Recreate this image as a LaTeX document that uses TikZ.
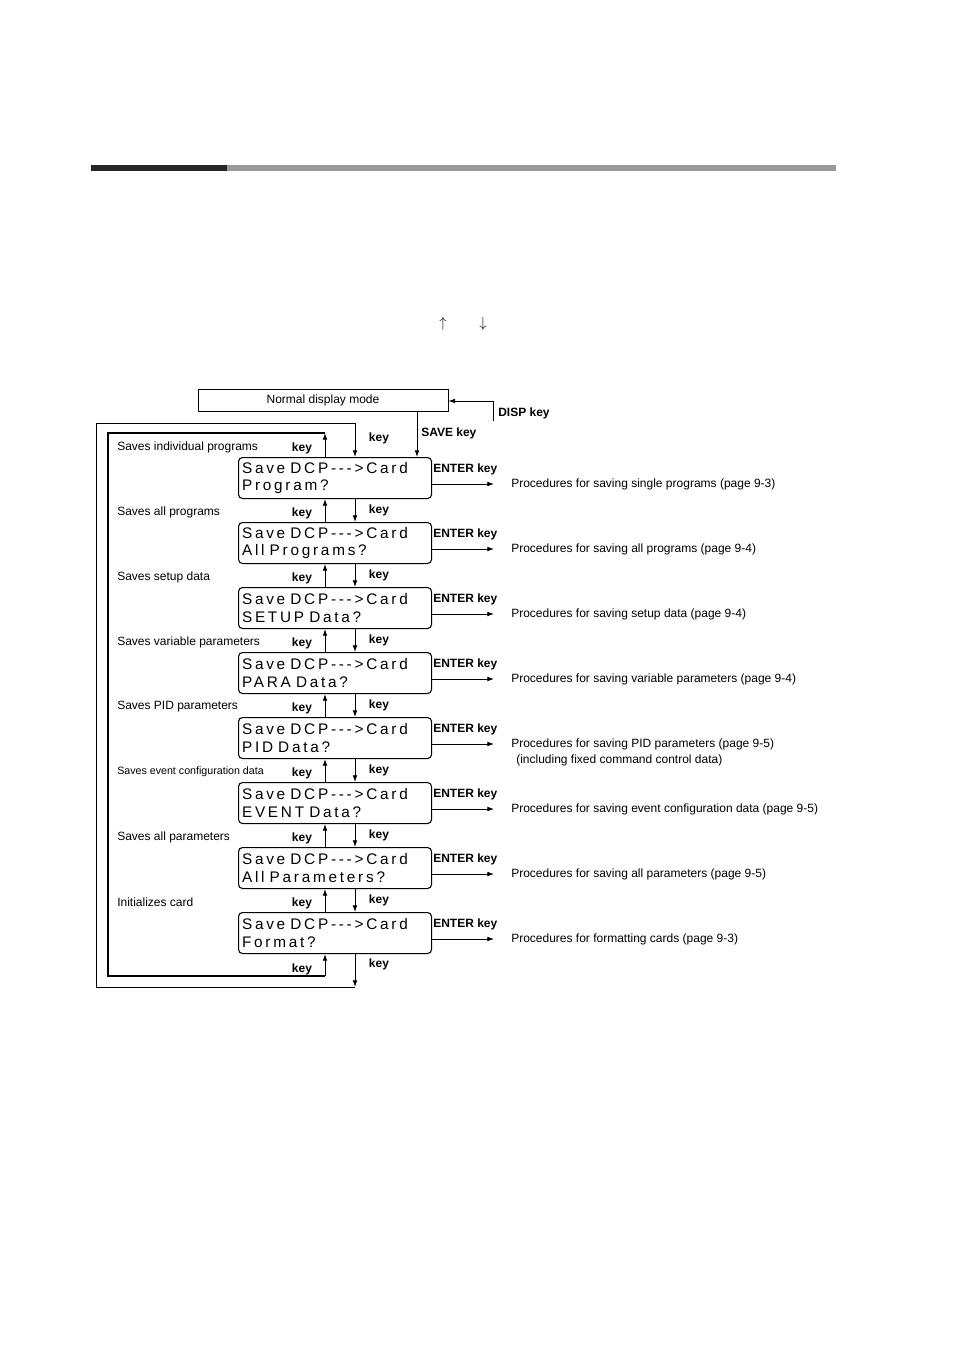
\documentclass[tikz,border=0pt]{standalone}
\usepackage{fontspec}
\setmainfont{Liberation Sans}
\newfontfamily\lcdfont[LetterSpace=18]{Liberation Sans}
\usetikzlibrary{arrows.meta}
\begin{document}
\begin{tikzpicture}[x=0.75pt,y=-0.75pt,
  lbl/.style={anchor=west,font=\fontsize{9}{10}\selectfont,inner sep=0},
  kb/.style={font=\bfseries\fontsize{9}{10}\selectfont,inner sep=0},
  lcd/.style={draw,rounded corners=3pt,line width=0.8pt,minimum width=193*0.75pt,minimum height=41*0.75pt,align=left,text width=186*0.75pt,inner sep=2pt,font=\lcdfont\fontsize{11.5}{13}\selectfont},
  ar/.style={-{Latex[length=5pt,width=3.5pt]},line width=0.6pt}]
\useasboundingbox (0,0) rectangle (954,1351);
\fill[black!85] (91,165) rectangle (227,171);
\fill[black!40] (227,165) rectangle (836,171);
\node[font=\fontsize{11}{12}\selectfont] (up) at (443,324) {$\uparrow$};
\node[font=\fontsize{11}{12}\selectfont] (dn) at (483,324) {$\downarrow$};
\node[draw,line width=0.6pt,minimum width=250*0.75pt,minimum height=22*0.75pt,font=\fontsize{9}{10}\selectfont,inner sep=0] (nd) at (323,400) {Normal display mode};
\coordinate (dk) at (493,421);
\draw[ar] (dk) -- (493,401) -- (nd.east |- 0,401);
\node[kb,anchor=west] (dispk) at (498,413) {DISP key};
\foreach \i/\t/\l/\p in {
 0/Program?/Saves individual programs/Procedures for saving single programs (page 9-3),
 1/All Programs?/Saves all programs/Procedures for saving all programs (page 9-4),
 2/SETUP Data?/Saves setup data/Procedures for saving setup data (page 9-4),
 3/PARA Data?/Saves variable parameters/Procedures for saving variable parameters (page 9-4),
 4/PID Data?/Saves PID parameters/Procedures for saving PID parameters (page 9-5),
 5/EVENT Data?/{\fontsize{8}{9}\selectfont Saves event configuration data}/Procedures for saving event configuration data (page 9-5),
 6/All Parameters?/Saves all parameters/Procedures for saving all parameters (page 9-5),
 7/Format?/Initializes card/Procedures for formatting cards (page 9-3)}{
  \pgfmathsetmacro\yt{457+65*\i}
  \node[lcd,anchor=north west] (b\i) at (238,\yt) {Save DCP--->Card\\\t};
  \node[lbl] (l\i) at (117,\yt-10) {\l};
  \node[kb,anchor=west] (e\i) at (433,\yt+12) {ENTER key};
  \node[lbl] (p\i) at (511,\yt+27) {\p};
  \draw[ar] (b\i.east |- 0,\yt+27) -- (494,\yt+27);
}
\node[lbl] (p4b) at (516,760) {(including fixed command control data)};
\foreach \i in {0,...,6}{
  \pgfmathtruncatemacro\j{\i+1}
  \draw[ar] (b\j.north -| 325,0) -- (b\i.south -| 325,0);
  \draw[ar] (b\i.south -| 355,0) -- (b\j.north -| 355,0);
  \pgfmathsetmacro\yk{457+65*\j}
  \node[kb] at (302,\yk-9) {key};
  \node[kb] at (379,\yk-12) {key};
}
\node[kb] at (302,448) {key};
\node[kb] at (379,438) {key};
\node[kb] at (302,969) {key};
\node[kb] at (379,964) {key};
\node[kb,anchor=west] (savek) at (421,433) {SAVE key};
\draw[ar] (nd.south -| 417,0) -- (b0.north -| 417,0);
% outer loop
\coordinate (ob) at (355,987);
\draw[ar] (b7.south -| 355,0) -- (ob);
\draw[line width=0.6pt] (ob) -- (96,987) -- (96,423) -- (355,423);
\draw[ar] (355,423) -- (b0.north -| 355,0);
% inner thick loop
\coordinate (it) at (325,433);
\draw[ar] (b0.north -| 325,0) -- (it);
\draw[line width=1.4pt] (it) -- (108,433) -- (108,976) -- (325,976);
\draw[ar] (325,976) -- (b7.south -| 325,0);
\end{tikzpicture}
\end{document}
